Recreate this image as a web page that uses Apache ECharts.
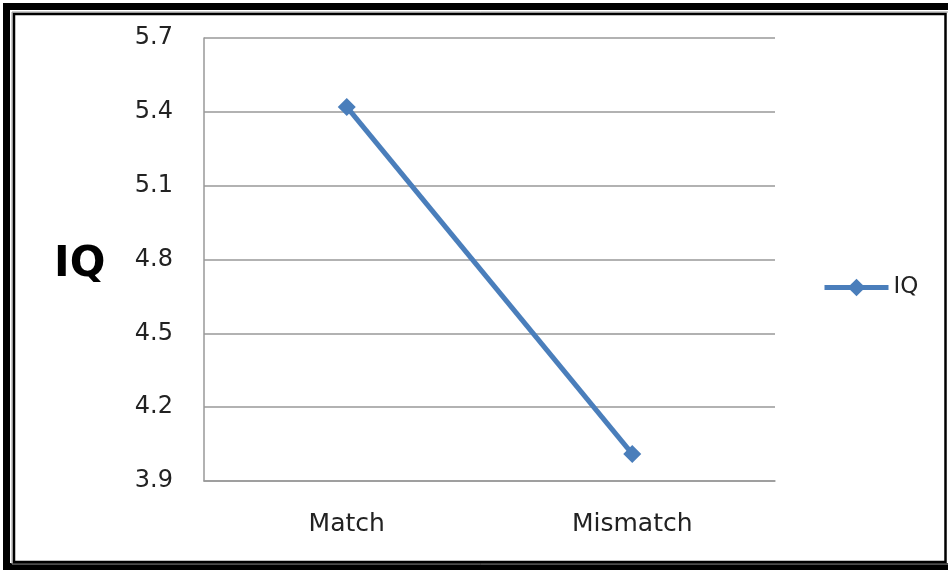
<!DOCTYPE html>
<html>
<head>
<meta charset="utf-8">
<style>
    html, body { margin: 0; padding: 0; background: #fff; }
    #lineChart { width: 948px; height: 570px; }
</style>
<script src="https://cdn.jsdelivr.net/npm/echarts@6/dist/echarts.min.js"></script>
</head>
<body>
<div id="lineChart"></div>
<script>
const categories = ['Match', 'Mismatch'];
const iqValues = [5.42, 4.01];
const seriesName = 'IQ';
const yMin = 3.9;
const yMax = 5.7;
const yStep = 0.3;

let lineChartDom = document.getElementById('lineChart');
let lineChart = echarts.init(lineChartDom);

let lineChartOption = {
    backgroundColor: '#fff',
    textStyle: {
        fontFamily: 'DejaVu Sans',
    },
    animation: false,
    grid: {
        left: 204,
        right: 173,
        top: 38,
        bottom: 89,
        containLabel: false
    },
    graphic: [
        // outer thick frame
        {
            type: 'rect',
            shape: { x: 6.5, y: 6.5, width: 950, height: 560 },
            style: { fill: 'none', stroke: '#000', lineWidth: 7 }
        },
        {
            type: 'rect',
            shape: { x: 12, y: 12, width: 950, height: 552 },
            style: { fill: 'none', stroke: '#999', lineWidth: 1 }
        },
        {
            type: 'rect',
            shape: { x: 14, y: 14, width: 931.5, height: 548 },
            style: { fill: 'none', stroke: '#000', lineWidth: 2.5 }
        },
        {
            type: 'text',
            left: 54,
            top: 244,
            style: {
                text: 'IQ',
                font: 'bold 42px "DejaVu Sans"',
                fill: '#000'
            }
        }
    ],
    legend: {
        data: [seriesName],
        left: 822,
        top: 276,
        padding: 0,
        itemWidth: 64,
        itemHeight: 22,
        itemGap: 6,
        textStyle: { color: '#222', fontSize: 23 },
        lineStyle: { width: 5 }
    },
    xAxis: {
        type: 'category',
        data: categories,
        boundaryGap: true,
        axisLine: { show: true, lineStyle: { color: '#999', width: 1.5 } },
        axisTick: { show: false },
        axisLabel: { color: '#222', fontSize: 25, margin: 31 },
        splitLine: { show: false }
    },
    yAxis: {
        type: 'value',
        min: yMin,
        max: yMax,
        interval: yStep,
        axisLine: { show: true, lineStyle: { color: '#999', width: 1.5 } },
        axisTick: { show: false },
        axisLabel: {
            color: '#222',
            fontSize: 24,
            margin: 31,
            formatter: (v) => v.toFixed(1)
        },
        splitLine: { lineStyle: { color: '#999', width: 1.5 } }
    },
    series: [
        {
            name: seriesName,
            type: 'line',
            data: iqValues,
            symbol: 'diamond',
            symbolSize: 18,
            lineStyle: { color: '#4a7ebb', width: 5 },
            itemStyle: { color: '#4a7ebb' }
        }
    ]
};

lineChart.setOption(lineChartOption);

window.addEventListener('resize', () => {
    lineChart.resize();
});
</script>
</body>
</html>
